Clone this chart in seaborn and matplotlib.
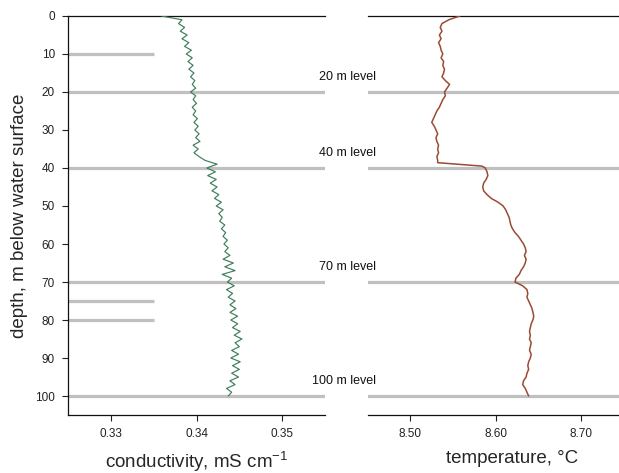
import numpy as np
import pandas as pd
import matplotlib
matplotlib.use("Agg")
import matplotlib.pyplot as plt
import seaborn as sns

# depth profile, 1 m steps
depth = list(range(0, 101))

conductivity = [
    0.3359, 0.3383, 0.3379, 0.3386, 0.3381, 0.3389, 0.3383, 0.3391, 0.3386, 0.3394,
    0.3388, 0.3395, 0.3390, 0.3396, 0.3391, 0.3397, 0.3393, 0.3398, 0.3395, 0.3399,
    0.3393, 0.3399, 0.3396, 0.3400, 0.3395, 0.3399, 0.3396, 0.3401, 0.3397, 0.3402,
    0.3398, 0.3403, 0.3399, 0.3404, 0.3396, 0.3402, 0.3397, 0.3403, 0.3410, 0.3424,
    0.3412, 0.3422, 0.3413, 0.3423, 0.3416, 0.3424, 0.3418, 0.3426, 0.3421, 0.3429,
    0.3423, 0.3431, 0.3426, 0.3430, 0.3427, 0.3433, 0.3429, 0.3434, 0.3431, 0.3436,
    0.3432, 0.3437, 0.3433, 0.3439, 0.3431, 0.3443, 0.3433, 0.3445, 0.3430, 0.3441,
    0.3436, 0.3444, 0.3435, 0.3442, 0.3437, 0.3445, 0.3439, 0.3446, 0.3439, 0.3448,
    0.3440, 0.3448, 0.3442, 0.3451, 0.3444, 0.3453, 0.3445, 0.3450, 0.3441, 0.3449,
    0.3440, 0.3451, 0.3442, 0.3450, 0.3441, 0.3449, 0.3439, 0.3445, 0.3435, 0.3441,
    0.3437,
]

# temperature profile (extra points around the step at ~39 m)
temp_depth = list(range(0, 39)) + [38.6, 39.5] + list(range(40, 101))
temperature = [
    8.558, 8.545, 8.537, 8.535, 8.537, 8.534, 8.536, 8.533, 8.535, 8.536,
    8.538, 8.536, 8.539, 8.538, 8.540, 8.539, 8.537, 8.541, 8.546, 8.543,
    8.540, 8.541, 8.538, 8.536, 8.534, 8.531, 8.529, 8.527, 8.525, 8.528,
    8.530, 8.532, 8.530, 8.531, 8.533, 8.532, 8.533, 8.531, 8.532,
    8.532, 8.584,
    8.588, 8.590, 8.591, 8.589, 8.586, 8.585, 8.586, 8.590, 8.595, 8.603,
    8.609, 8.612, 8.614, 8.616, 8.617, 8.618, 8.620, 8.623, 8.627, 8.630,
    8.633, 8.635, 8.636, 8.634, 8.636, 8.635, 8.633, 8.630, 8.628, 8.624,
    8.623, 8.632, 8.637, 8.638, 8.637, 8.639, 8.641, 8.643, 8.644, 8.645,
    8.644, 8.642, 8.641, 8.640, 8.641, 8.640, 8.642, 8.641, 8.640, 8.642,
    8.641, 8.639, 8.638, 8.639, 8.637, 8.636, 8.633, 8.632, 8.635, 8.637,
    8.639,
]

full_levels = [20, 40, 70, 100]
short_levels = [10, 75, 80]
level_labels = ["20 m level", "40 m level", "70 m level", "100 m level"]

cond_df = pd.DataFrame({"depth": depth, "conductivity": conductivity})
temp_df = pd.DataFrame({"depth": temp_depth, "temperature": temperature})

sns.set_style("ticks")
plt.rcParams["font.family"] = ["Liberation Sans", "DejaVu Sans"]
plt.rcParams["mathtext.default"] = "regular"

grey = "#c0c0c0"
fig = plt.figure(figsize=(6.19, 4.73), dpi=100)
ax1 = fig.add_axes([0.1099, 0.1226, 0.4152, 0.8436])
ax2 = fig.add_axes([0.5945, 0.1226, 0.4669, 0.8436])

# conductivity panel
for lv in full_levels:
    ax1.axhline(lv, color=grey, lw=2.3, zorder=1)
ax1.hlines(short_levels, 0.325, 0.335, color=grey, lw=2.3, zorder=1)
sns.lineplot(data=cond_df, x="conductivity", y="depth", sort=False,
             estimator=None, color="#3f7d5c", lw=0.85, ax=ax1, zorder=3)
ax1.lines[-1].set_solid_joinstyle("round")
ax1.set_xlim(0.325, 0.355)
ax1.set_ylim(105, 0)
ax1.set_xticks([0.33, 0.34, 0.35], labels=["0.33", "0.34", "0.35"])
ax1.set_yticks(range(0, 101, 10))
ax1.set_xlabel("conductivity, mS cm$^{-1}$", fontsize=13.5)
ax1.set_ylabel("depth, m below water surface", fontsize=13.5)
ax1.xaxis.set_label_coords(0.5, -0.087)
ax1.yaxis.set_label_coords(-0.155, 0.5)
ax1.spines["top"].set_visible(True)
ax1.spines["right"].set_visible(False)

# temperature panel
for lv in full_levels:
    ax2.axhline(lv, color=grey, lw=2.3, zorder=1)
sns.lineplot(data=temp_df, x="temperature", y="depth", sort=False,
             estimator=None, color="#9b4a33", lw=1.1, ax=ax2, zorder=3)
ax2.set_xlim(8.45, 8.79)
ax2.set_ylim(105, 0)
ax2.set_xticks([8.5, 8.6, 8.7], labels=["8.50", "8.60", "8.70"])
ax2.set_yticks([])
ax2.set_ylabel("")
ax2.set_xlabel("temperature, °C", fontsize=13.5)
ax2.xaxis.set_label_coords(0.5, -0.087)
ax2.spines["top"].set_visible(True)
ax2.spines["right"].set_visible(False)
ax2.spines["left"].set_visible(False)

for lv, txt in zip(full_levels, level_labels):
    ax2.text(8.4595, lv - 4, txt, ha="right", va="center", fontsize=9,
             color="#111111", clip_on=False)

for ax in (ax1, ax2):
    ax.tick_params(labelsize=8.5, length=4.5, width=0.8, pad=5,
                   colors="#222222")
    for s in ax.spines.values():
        s.set_linewidth(0.9)
        s.set_color("#111111")

fig.savefig("out.png", dpi=100)
